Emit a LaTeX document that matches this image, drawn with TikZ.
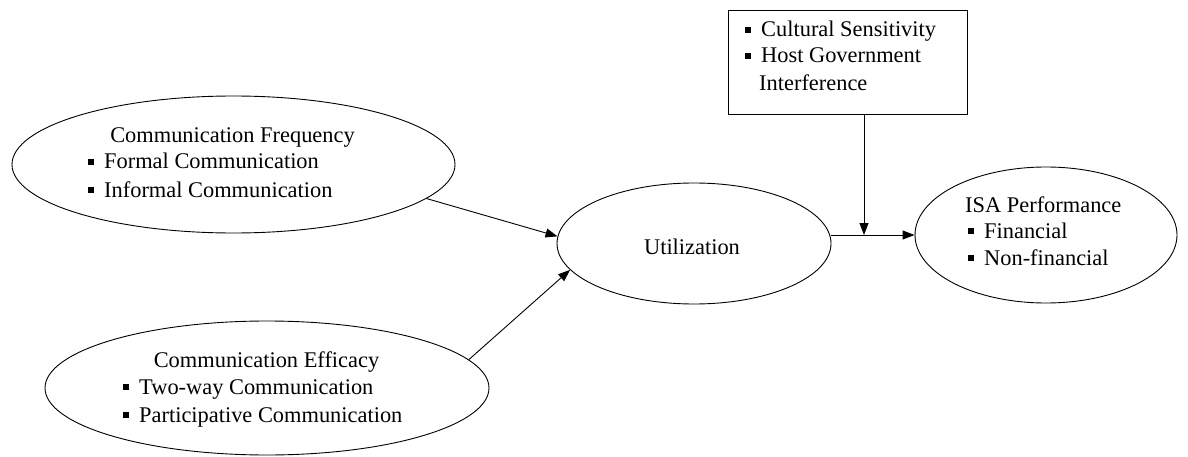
\documentclass[tikz,border=0pt]{standalone}
\usepackage{fontspec}
\setmainfont{Liberation Serif}
\usetikzlibrary{arrows.meta,shapes.geometric}
\newcommand{\bul}{\makebox[16pt][l]{\rule[4pt]{6pt}{6pt}}}
\tikzset{
  oval/.style={draw, line width=0.9pt, ellipse, inner sep=0pt},
  txt/.style={inner sep=0pt, font=\fontsize{22.4}{26}\selectfont},
  conn/.style={line width=0.9pt, -{Triangle[length=12pt,width=9pt]}}
}
\begin{document}
\begin{tikzpicture}[x=1pt,y=-1pt]
\useasboundingbox (0,0) rectangle (1188,457);
% shapes
\node[oval, minimum width=443pt, minimum height=137pt] (freq) at (233.5,164.5) {};
\node[oval, minimum width=444pt, minimum height=134pt] (eff) at (267,388) {};
\node[oval, minimum width=274pt, minimum height=121pt] (util) at (694,243.5) {};
\node[oval, minimum width=262pt, minimum height=136pt] (isa) at (1046,235) {};
\node[draw, line width=0.9pt, minimum width=239pt, minimum height=104pt, inner sep=0pt] (box) at (847.5,62) {};
% texts
\node[txt, anchor=base] (t1) at (232.5,143) {Communication Frequency};
\node[txt, anchor=base west] (t2) at (88,169) {\bul Formal Communication};
\node[txt, anchor=base west] (t3) at (88,197) {\bul Informal Communication};
\node[txt, anchor=base] (t4) at (266.5,367) {Communication Efficacy};
\node[txt, anchor=base west] (t5) at (123,394) {\bul Two-way Communication};
\node[txt, anchor=base west] (t6) at (123,422) {\bul Participative Communication};
\node[txt, anchor=base] (t7) at (692,254) {Utilization};
\node[txt, anchor=base west] (t8) at (965,212) {ISA Performance};
\node[txt, anchor=base west] (t9) at (968,238) {\bul Financial};
\node[txt, anchor=base west] (t10) at (968,265) {\bul Non-financial};
\node[txt, anchor=base west] (t11) at (745,37) {\bul Cultural Sensitivity};
\node[txt, anchor=base west] (t12) at (745,63) {\bul Host Government};
\node[txt, anchor=base west] (t13) at (759,91) {Interference};
% connectors
\coordinate (j) at (864,235);
\draw[conn] (freq.-10.6) -- (util.177.3);
\draw[conn] (eff.8.9) -- (util.192);
\draw[conn] (util.east |- isa.west) -- (isa.west);
\draw[conn] (box.south -| j) -- (j);
\end{tikzpicture}
\end{document}
